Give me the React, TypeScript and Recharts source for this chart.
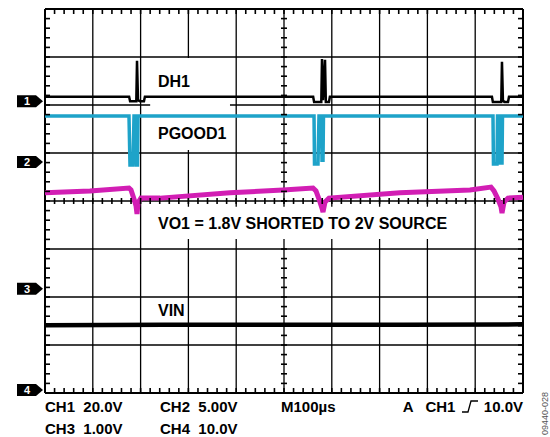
import React from "react";
import {
    ComposedChart,
    Line,
    Scatter,
    XAxis,
    YAxis,
    CartesianGrid,
    ReferenceArea,
    ReferenceLine,
} from "recharts";

// time in µs (M100µs x 10 div), level in screen divisions from the bottom (0..8)
const DH1_T = [0, 176, 178, 191, 192.5, 194.6, 198.7, 207, 209, 561, 563, 578, 579.5, 581.6, 585.8, 587.5, 594, 596, 935, 937, 954.5, 956, 958, 961, 968.6, 970.7, 1000];
const DH1_V = [6.17, 6.17, 6.08, 6.08, 6.92, 6.1, 6.08, 6.08, 6.17, 6.17, 6.06, 6.06, 6.96, 6.1, 6.94, 6.06, 6.06, 6.17, 6.17, 6.06, 6.06, 6.9, 6.1, 6.06, 6.06, 6.17, 6.17];

const PGOOD_T = [0, 175.7, 177.8, 184.1, 186.2, 190.4, 191.5, 193.5, 194.6, 562.8, 563.8, 571.1, 573.2, 578.4, 579.5, 581.6, 582.6, 937.2, 938.2, 945.6, 946.7, 950.8, 951.9, 956.1, 957.1, 1000];
const PGOOD_V = [5.77, 5.77, 4.75, 4.75, 5.77, 5.77, 4.75, 4.75, 5.77, 5.77, 4.77, 4.77, 5.77, 5.77, 4.85, 4.85, 5.77, 5.77, 4.77, 4.77, 5.77, 5.77, 4.79, 4.79, 5.77, 5.77];

const VO1_T = [0, 94, 175.7, 179.9, 186.2, 190.4, 192.5, 194.6, 200.8, 240.6, 387, 497.9, 560.7, 566.9, 573.2, 579.5, 581.6, 585.8, 594.1, 742.6, 889.1, 933, 939.3, 947.7, 954, 956.1, 960.3, 968.6, 1000];
const VO1_V = [4.17, 4.21, 4.27, 4.23, 4.04, 3.9, 3.73, 3.96, 4.06, 4.06, 4.17, 4.23, 4.27, 4.21, 4.04, 3.85, 3.77, 3.98, 4.06, 4.17, 4.23, 4.29, 4.21, 4.04, 3.88, 3.75, 3.98, 4.06, 4.08];

const VIN_T = [0, 250, 500, 750, 1000];
const VIN_V = [1.41, 1.42, 1.42, 1.42, 1.43];

const CH_NAMES = ["1", "2", "3", "4"];
const CH_LEVELS = [6.08, 4.81, 2.17, 0.06];

const X_TICKS = [0, 100, 200, 300, 400, 500, 600, 700, 800, 900, 1000];
const Y_TICKS = [0, 1, 2, 3, 4, 5, 6, 7, 8];

const CYAN = "#1ea3c9";
const MAGENTA = "#d21eb4";
const FONT = "'Liberation Sans', Arial, sans-serif";

const zip = (t: number[], v: number[]) => t.map((x, i) => ({ t: x, v: v[i] }));

const dh1 = zip(DH1_T, DH1_V);
const pgood = zip(PGOOD_T, PGOOD_V);
const vo1 = zip(VO1_T, VO1_V);
const vin = zip(VIN_T, VIN_V);
const chMarks = CH_NAMES.map((name, i) => ({ t: 0, v: CH_LEVELS[i], name }));

// minor graticule ticks, 5 per division
const minorT = Array.from({ length: 49 }, (_, i) => (i + 1) * 20);
const minorV = Array.from({ length: 39 }, (_, i) => Math.round((i + 1) * 2) / 10);
const topTicks = minorT.map((t) => ({ t, v: 8 }));
const bottomTicks = minorT.map((t) => ({ t, v: 0 }));
const hmidTicks = minorT.map((t) => ({ t, v: 4 }));
const leftTicks = minorV.map((v) => ({ t: 0, v }));
const rightTicks = minorV.map((v) => ({ t: 1000, v }));
// the VO1 caption box hides the centre line between 3.2 and 3.9 div
const vmidTicks = minorV.filter((v) => v < 3.2 || v > 3.9).map((v) => ({ t: 500, v }));

const TopTick = (p: any) => (
    <line x1={p.cx} y1={p.cy} x2={p.cx} y2={p.cy + 5} stroke="#000" strokeWidth={1.6} />
);
const BottomTick = (p: any) => (
    <line x1={p.cx} y1={p.cy} x2={p.cx} y2={p.cy - 5} stroke="#000" strokeWidth={1.6} />
);
const LeftTick = (p: any) => (
    <line x1={p.cx} y1={p.cy} x2={p.cx + 5} y2={p.cy} stroke="#000" strokeWidth={1.6} />
);
const RightTick = (p: any) => (
    <line x1={p.cx} y1={p.cy} x2={p.cx - 5} y2={p.cy} stroke="#000" strokeWidth={1.6} />
);
const HMidTick = (p: any) => (
    <line x1={p.cx} y1={p.cy - 3} x2={p.cx} y2={p.cy + 3} stroke="#000" strokeWidth={1.6} />
);
const VMidTick = (p: any) => (
    <line x1={p.cx - 3} y1={p.cy} x2={p.cx + 3} y2={p.cy} stroke="#000" strokeWidth={1.6} />
);

const ChannelMarker = (p: any) => {
    const { cx, cy, payload } = p;
    const pts = [
        [cx - 28, cy - 6],
        [cx - 9, cy - 6],
        [cx - 2, cy],
        [cx - 9, cy + 6],
        [cx - 28, cy + 6],
    ]
        .map((q) => q.join(","))
        .join(" ");
    return (
        <g>
            <polygon points={pts} fill="#000" />
            <text
                x={cx - 18}
                y={cy + 4}
                fill="#fff"
                fontSize={11}
                fontWeight="bold"
                fontFamily={FONT}
                textAnchor="middle"
            >
                {payload.name}
            </text>
        </g>
    );
};

const label: React.CSSProperties = {
    position: "absolute",
    fontFamily: FONT,
    fontWeight: "bold",
    fontSize: 16,
    lineHeight: "16px",
    color: "#000",
    whiteSpace: "pre",
};

const info: React.CSSProperties = { ...label, fontSize: 15, lineHeight: "15px" };

const App = () => {
    return (
        <div
            style={{
                position: "absolute",
                left: 0,
                top: 0,
                width: 550,
                height: 437,
                background: "#fff",
            }}
        >
            <ComposedChart
                width={550}
                height={437}
                margin={{ top: 9, right: 27, bottom: 44, left: 45 }}
            >
                <XAxis
                    dataKey="t"
                    type="number"
                    domain={[0, 1000]}
                    ticks={X_TICKS}
                    hide={true}
                />
                <YAxis
                    dataKey="v"
                    type="number"
                    domain={[0, 8]}
                    ticks={Y_TICKS}
                    hide={true}
                />
                <CartesianGrid stroke="#000" strokeWidth={1.3} />
                <ReferenceArea
                    x1={220}
                    x2={387}
                    y1={5.06}
                    y2={6.98}
                    fill="#fff"
                    fillOpacity={1}
                    stroke="none"
                />
                <ReferenceArea
                    x1={220}
                    x2={860}
                    y1={3.21}
                    y2={3.88}
                    fill="#fff"
                    fillOpacity={1}
                    stroke="none"
                />
                <ReferenceLine x={0} stroke="#000" strokeWidth={2} />
                <ReferenceLine x={1000} stroke="#000" strokeWidth={2} />
                <ReferenceLine y={0} stroke="#000" strokeWidth={2} />
                <ReferenceLine y={8} stroke="#000" strokeWidth={2} />
                <Line
                    data={vin}
                    dataKey="v"
                    type="linear"
                    stroke="#000"
                    strokeWidth={4.5}
                    dot={false}
                    isAnimationActive={false}
                />
                <Line
                    data={vo1}
                    dataKey="v"
                    type="linear"
                    stroke={MAGENTA}
                    strokeWidth={5}
                    dot={false}
                    isAnimationActive={false}
                />
                <Line
                    data={pgood}
                    dataKey="v"
                    type="linear"
                    stroke={CYAN}
                    strokeWidth={3.5}
                    dot={false}
                    isAnimationActive={false}
                />
                <Line
                    data={dh1}
                    dataKey="v"
                    type="linear"
                    stroke="#000"
                    strokeWidth={2.5}
                    dot={false}
                    isAnimationActive={false}
                />
                <Scatter data={topTicks} dataKey="v" shape={TopTick} isAnimationActive={false} />
                <Scatter data={bottomTicks} dataKey="v" shape={BottomTick} isAnimationActive={false} />
                <Scatter data={hmidTicks} dataKey="v" shape={HMidTick} isAnimationActive={false} />
                <Scatter data={leftTicks} dataKey="v" shape={LeftTick} isAnimationActive={false} />
                <Scatter data={rightTicks} dataKey="v" shape={RightTick} isAnimationActive={false} />
                <Scatter data={vmidTicks} dataKey="v" shape={VMidTick} isAnimationActive={false} />
                <Scatter
                    data={chMarks}
                    dataKey="v"
                    shape={ChannelMarker}
                    isAnimationActive={false}
                />
            </ComposedChart>

            <div style={{ ...label, left: 158, top: 74 }}>DH1</div>
            <div style={{ ...label, left: 158, top: 126 }}>PGOOD1</div>
            <div style={{ ...label, left: 158, top: 215.5 }}>
                VO1 = 1.8V SHORTED TO 2V SOURCE
            </div>
            <div style={{ ...label, left: 158, top: 302.5 }}>VIN</div>

            <div style={{ ...info, left: 45, top: 399 }}>CH1  20.0V</div>
            <div style={{ ...info, left: 160, top: 399 }}>CH2  5.00V</div>
            <div style={{ ...info, left: 281, top: 399 }}>M100µs</div>
            <div style={{ ...info, right: 27, top: 399 }}>
                A   CH1{" "}
                <svg
                    width={16}
                    height={13}
                    style={{ verticalAlign: "-1px", margin: "0 2px" }}
                >
                    <path d="M0,12H6L9,1H16" stroke="#000" strokeWidth={1.3} fill="none" />
                </svg>{" "}
                10.0V
            </div>
            <div style={{ ...info, left: 45, top: 421 }}>CH3  1.00V</div>
            <div style={{ ...info, left: 160, top: 421 }}>CH4  10.0V</div>

            <div
                style={{
                    position: "absolute",
                    left: 540,
                    top: 435,
                    fontFamily: FONT,
                    fontSize: 9,
                    color: "#555",
                    whiteSpace: "pre",
                    transform: "rotate(-90deg)",
                    transformOrigin: "0 0",
                }}
            >
                09440-028
            </div>
        </div>
    );
};

export default App;
